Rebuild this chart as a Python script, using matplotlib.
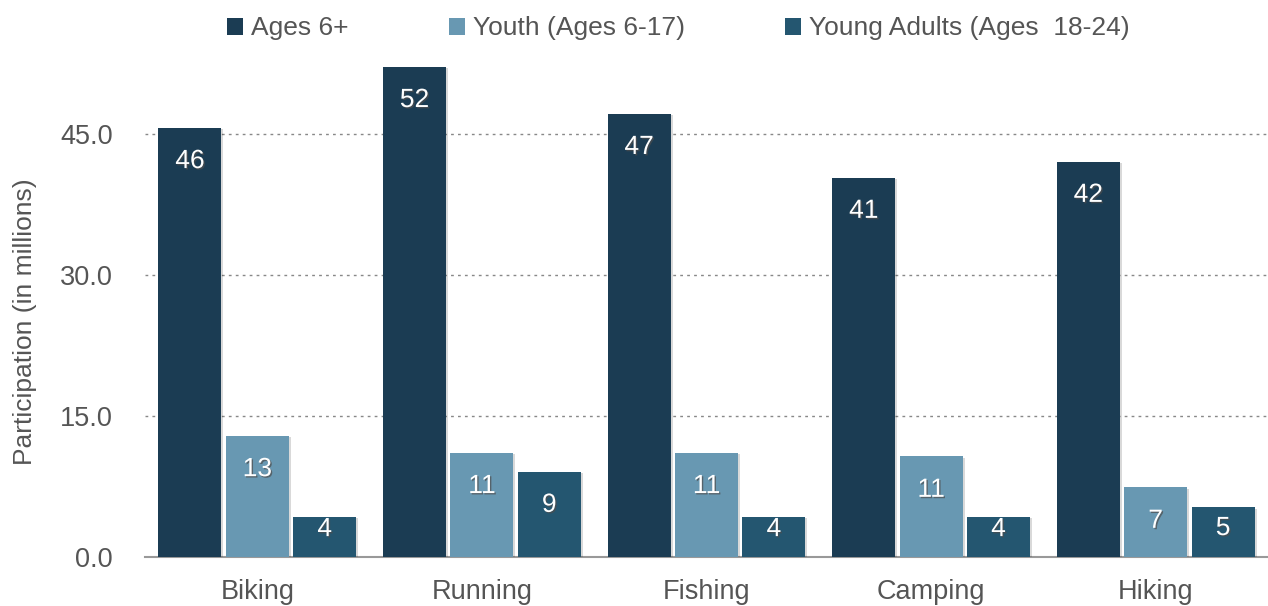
import matplotlib
matplotlib.use("Agg")
import matplotlib.pyplot as plt
import matplotlib.patheffects as pe
import numpy as np

categories = ["Biking", "Running", "Fishing", "Camping", "Hiking"]
series_names = ["Ages 6+", "Youth (Ages 6-17)", "Young Adults (Ages  18-24)"]
ages6 = [45.7, 52.2, 47.2, 40.4, 42.1]
youth = [12.9, 11.1, 11.1, 10.7, 7.4]
young_adults = [4.3, 9.1, 4.3, 4.3, 5.3]
labels_ages6 = [46, 52, 47, 41, 42]
labels_youth = [13, 11, 11, 11, 7]
labels_young = [4, 9, 4, 4, 5]
yticks = [0.0, 15.0, 30.0, 45.0]

colors = ["#1b3c53", "#6898b2", "#245670"]

plt.rcParams['font.family'] = ['Liberation Sans', 'DejaVu Sans']
fig = plt.figure(figsize=(12.68, 6.06), dpi=100)
ax = fig.add_axes([145/1268, 1 - 557/606, (1268-145)/1268, (557-62)/606])

x = np.arange(len(categories))
w = 0.28
step = 0.30
series = [ages6, youth, young_adults]
lbls = [labels_ages6, labels_youth, labels_young]
for i, (vals, lab, c, name) in enumerate(zip(series, lbls, colors, series_names)):
    bars = ax.bar(x + (i - 1) * step, vals, width=w, color=c, label=name, zorder=3)
    for b in bars:
        b.set_path_effects([pe.SimplePatchShadow(offset=(1.5, -1), alpha=0.15, shadow_rgbFace='#000000'), pe.Normal()])
    for xi, v, l in zip(x + (i - 1) * step, vals, lab):
        off = -24 if v > 6 else (-15 if v > 5 else -9)
        ax.annotate(f"{l}", (xi, v), xytext=(0, off), textcoords="offset points",
                    ha="center", va="center", color="white", fontsize=19, zorder=5,
                    path_effects=[pe.withSimplePatchShadow(offset=(1, -1), alpha=0.7)])

ax.set_xlim(-0.5, 4.5)
ax.set_ylim(0, 52.7)
ax.set_yticks(yticks)
ax.set_yticklabels([f"{t:.1f}" for t in yticks])
ax.set_xticks(x)
ax.set_xticklabels(categories)
ax.tick_params(axis='both', length=0, labelsize=19.5, colors="#555555")
ax.tick_params(axis='y', pad=23)
ax.tick_params(axis='x', pad=16)
for t in yticks[1:]:
    ax.axhline(t, color="#888888", linestyle=(0, (2, 3)), linewidth=1, zorder=1)
for s in ["top", "right", "left"]:
    ax.spines[s].set_visible(False)
ax.spines["bottom"].set_color("#999999")
ax.spines["bottom"].set_linewidth(1.5)
ax.set_ylabel("Participation (in millions)", fontsize=19, color="#555555", labelpad=6)
ax.yaxis.set_label_coords(-0.096, 0.475)

leg = fig.legend(loc="upper center", bbox_to_anchor=(0.535, 1.012), ncol=3, frameon=False,
                 fontsize=19, handlelength=0.6, handleheight=0.6, handletextpad=0.3,
                 columnspacing=3.8)
for t in leg.get_texts():
    t.set_color("#555555")
for h in leg.legend_handles:
    h.set_path_effects([])

fig.savefig("out.png", dpi=100, facecolor="white")
